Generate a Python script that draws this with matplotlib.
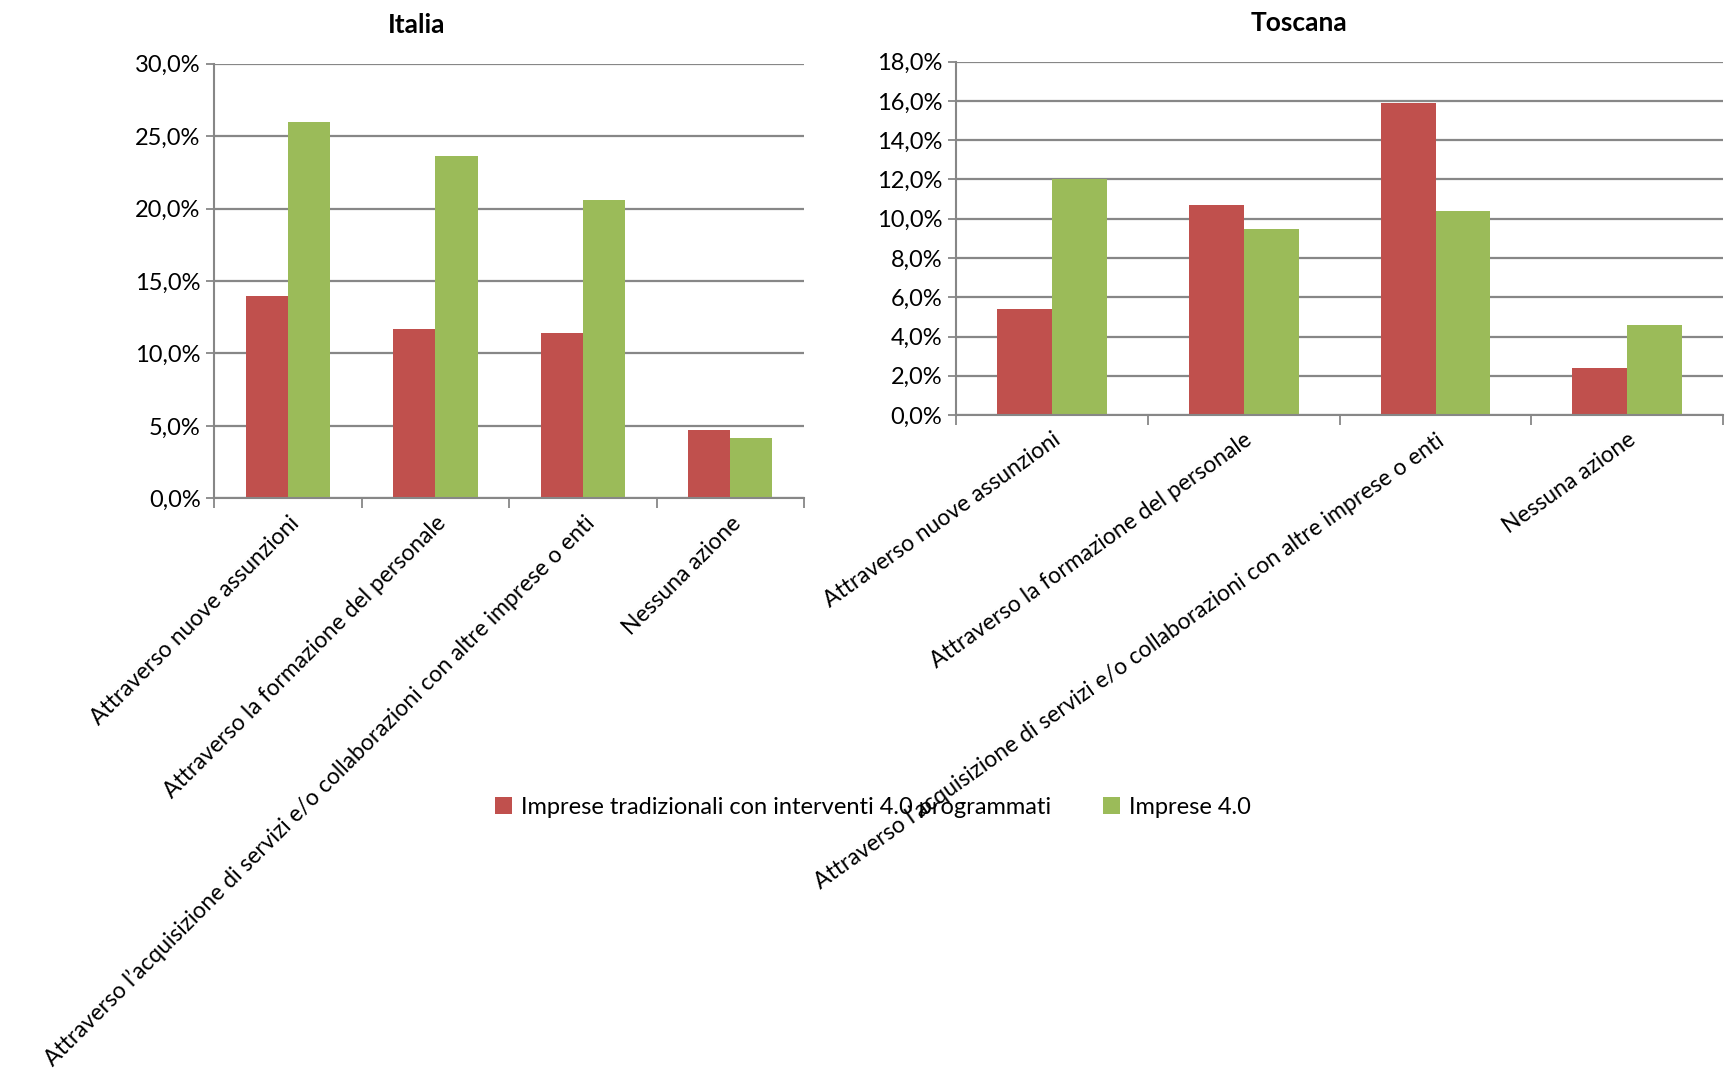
import matplotlib
matplotlib.use('Agg')
from matplotlib import pyplot as plt
from matplotlib.ticker import FuncFormatter, FixedLocator
import numpy as np

plt.rcParams['font.family'] = ['Lato', 'DejaVu Sans']

# categorie e valori (%)
categorie = ['Attraverso nuove assunzioni',
             'Attraverso la formazione del personale',
             'Attraverso l\u2019acquisizione di servizi e/o collaborazioni con altre imprese o enti',
             'Nessuna azione']
serie = ['Imprese tradizionali con interventi 4.0 programmati', 'Imprese 4.0']

italia_trad = [14.0, 11.7, 11.4, 4.7]
italia_40 = [26.0, 23.6, 20.6, 4.2]
toscana_trad = [5.4, 10.7, 15.9, 2.4]
toscana_40 = [12.0, 9.5, 10.4, 4.6]

ROSSO = '#C0504D'
VERDE = '#9BBB59'
GRIGIO = '#878787'


def pct(v, pos):
    return ('%.1f%%' % v).replace('.', ',')


def disegna(ax, trad, nuove, titolo, ymax, passo, rot, fs, xt):
    x = np.arange(len(categorie))
    w = 1 / 3.5
    ax.bar(x - w / 2, trad, w, color=ROSSO, zorder=3, label=serie[0])
    ax.bar(x + w / 2, nuove, w, color=VERDE, zorder=3, label=serie[1])
    ax.set_xlim(-0.5, len(categorie) - 0.5)
    ax.set_ylim(0, ymax)
    ax.set_yticks(np.arange(0, ymax + passo / 2, passo))
    ax.yaxis.set_major_formatter(FuncFormatter(pct))
    ax.yaxis.grid(True, color=GRIGIO, linewidth=1.6, zorder=0)
    ax.set_xticks(x)
    ax.set_xticklabels(categorie, rotation=rot, ha='right', rotation_mode='anchor', fontsize=fs)
    ax.tick_params(axis='x', length=0, pad=10)
    ax.xaxis.set_minor_locator(FixedLocator(np.arange(-0.5, len(categorie), 1.0)))
    ax.tick_params(axis='x', which='minor', length=7, color=GRIGIO, width=1.3)
    ax.tick_params(axis='y', length=6, color=GRIGIO, width=1.3, labelsize=17, pad=4)
    for s in ['top', 'right']:
        ax.spines[s].set_visible(False)
    for s in ['left', 'bottom']:
        ax.spines[s].set_color(GRIGIO)
        ax.spines[s].set_linewidth(1.5)
    ax.spines['bottom'].set_zorder(4)
    ax.set_title(titolo, fontsize=19, fontweight='bold', pad=22, x=xt)


fig = plt.figure(figsize=(17.29, 10.81), dpi=100)
ax1 = fig.add_axes([0.124, 0.539, 0.341, 0.402])
ax2 = fig.add_axes([0.553, 0.616, 0.4436, 0.327])

disegna(ax1, italia_trad, italia_40, 'Italia', 30, 5, 45, 16.5, 0.343)
disegna(ax2, toscana_trad, toscana_40, 'Toscana', 18, 2, 35.5, 16.5, 0.447)

h, l = ax1.get_legend_handles_labels()
fig.legend(h, l, loc='center', bbox_to_anchor=(0.505, 0.253), ncol=2, frameon=False,
           fontsize=17, handlelength=0.7, handleheight=0.7, handletextpad=0.4,
           columnspacing=2.2)

fig.savefig('out.png', dpi=100)
